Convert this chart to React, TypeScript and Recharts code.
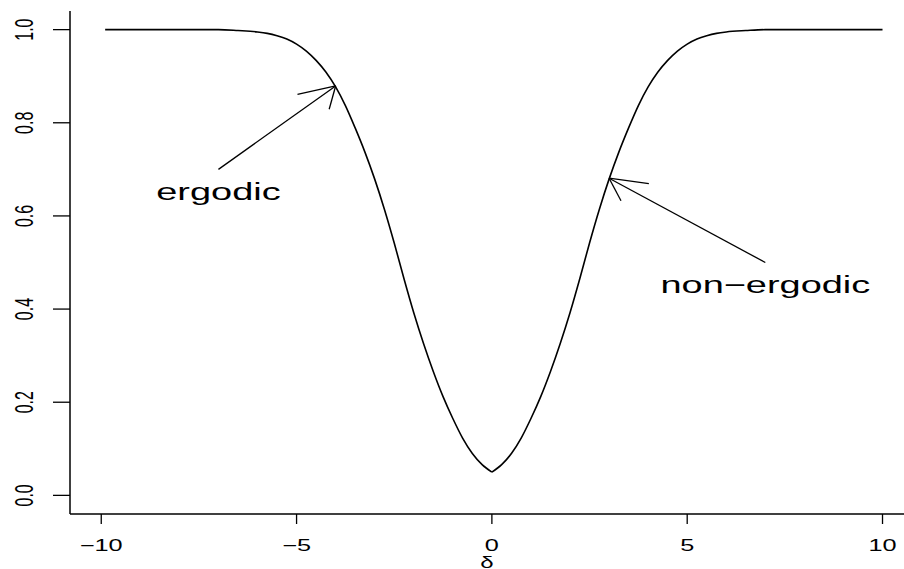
import { LineChart, Line, XAxis, YAxis, ReferenceLine, ReferenceDot } from 'recharts'

// values
const deltas = [
  -9.9, -9, -8, -7.5, -7, -6.5, -6, -5.75, -5.5, -5.25, -5, -4.75, -4.5, -4.25, -4, -3.75, -3.5, -3.25,
  -3, -2.75, -2.5, -2.25, -2, -1.75, -1.5, -1.25, -1, -0.75, -0.5, -0.25, 0,
  0.25, 0.5, 0.75, 1, 1.25, 1.5, 1.75, 2, 2.25, 2.5, 2.75, 3, 3.25, 3.5, 3.75,
  4, 4.25, 4.5, 4.75, 5, 5.25, 5.5, 5.75, 6, 6.5, 7, 7.5, 8, 9, 10,
]
const probs = [
  1.0, 1.0, 1.0, 1.0, 1.0, 0.998, 0.995, 0.992, 0.987, 0.98, 0.969, 0.954, 0.934, 0.909, 0.877, 0.837, 0.789, 0.737,
  0.679, 0.614, 0.542, 0.465, 0.392, 0.326, 0.266, 0.212, 0.165, 0.123, 0.09, 0.066, 0.05,
  0.066, 0.09, 0.123, 0.165, 0.212, 0.266, 0.326, 0.392, 0.465, 0.542, 0.614, 0.679, 0.737, 0.789, 0.837,
  0.877, 0.909, 0.934, 0.954, 0.969, 0.98, 0.987, 0.992, 0.995, 0.998, 1.0, 1.0, 1.0, 1.0, 1.0,
]
const xTicks = [-10, -5, 0, 5, 10]
const yTicks = [0, 0.2, 0.4, 0.6, 0.8, 1.0]

const labelNames = ['ergodic', 'non−ergodic']
const labelX = [-7, 7]
const labelY = [0.65, 0.45]
const arrowFrom = [[-7, 0.7], [7, 0.5]]
const arrowTo = [[-4, 0.879], [3, 0.681]]

// split at the cusp so the bottom stays sharp
const data = deltas.map((d, i) => ({
  delta: d,
  left: d <= 0 ? probs[i] : null,
  right: d >= 0 ? probs[i] : null,
}))

const FONT = '"Liberation Sans", Arial, Helvetica, sans-serif'
const SX = 1.58 // the original image is stretched sideways
const HEAD_SX = 1.73
const HEAD_LEN = 23.6

const fmtX = (v: number) => (v < 0 ? '−' + Math.abs(v) : String(v))

const XTick = (p: any) => (
  <g transform={`translate(${p.x},${p.y + 25}) scale(${SX},1)`}>
    <text x={0} y={0} textAnchor="middle" fontSize={16} fontFamily={FONT} fill="#000">
      {fmtX(p.payload.value)}
    </text>
  </g>
)

const YTick = (p: any) => (
  <g transform={`translate(${p.x - 18},${p.y}) scale(${SX},1) rotate(-90)`}>
    <text x={0} y={0} textAnchor="middle" fontSize={16} fontFamily={FONT} fill="#000">
      {Number(p.payload.value).toFixed(1)}
    </text>
  </g>
)

const Arrow = (p: any) => {
  const { x1, y1, x2, y2 } = p
  const a = Math.atan2(y1 - y2, (x1 - x2) / HEAD_SX)
  const heads = [a - Math.PI / 6, a + Math.PI / 6].map((t) => [
    x2 + HEAD_SX * HEAD_LEN * Math.cos(t),
    y2 + HEAD_LEN * Math.sin(t),
  ])
  return (
    <g stroke="#000" strokeWidth={1.3} fill="none">
      <line x1={x1} y1={y1} x2={x2} y2={y2} />
      {heads.map((h, i) => (
        <line key={i} x1={x2} y1={y2} x2={h[0]} y2={h[1]} />
      ))}
    </g>
  )
}

const makeText = (txt: string) => (p: any) => (
  <g transform={`translate(${p.cx},${p.cy + 7.5}) scale(${SX},1)`}>
    <text x={0} y={0} textAnchor="middle" fontSize={24} fontFamily={FONT} fill="#000">
      {txt}
    </text>
  </g>
)

const deltaLabel = (p: any) => {
  const vb = p.viewBox
  return (
    <g transform={`translate(${vb.x + vb.width / 2},${vb.y + 54}) scale(1.5,1)`}>
      <text x={0} y={0} textAnchor="middle" fontSize={16} fontFamily={FONT} fill="#000">
        δ
      </text>
    </g>
  )
}

export default function App() {
  return (
    <div style={{ position: 'absolute', left: 0, top: 0, width: 904, height: 569, background: '#fff', overflow: 'hidden' }}>
      <LineChart width={904} height={569} data={data} margin={{ top: 11, right: 0, bottom: 0, left: 0 }}>
        <XAxis
          dataKey="delta"
          type="number"
          domain={[-10.8, 10.55]}
          ticks={xTicks}
          tickSize={10}
          height={55}
          tick={<XTick />}
          axisLine={{ stroke: '#000', strokeWidth: 1.5 }}
          tickLine={{ stroke: '#000', strokeWidth: 1.3 }}
          label={{ content: deltaLabel }}
        />
        <XAxis
          xAxisId="top"
          orientation="top"
          type="number"
          domain={[-10.8, 10.55]}
          height={0}
          tick={false}
          tickLine={false}
          axisLine={{ stroke: '#000', strokeWidth: 1.5 }}
        />
        <YAxis
          type="number"
          domain={[-0.04, 1.04]}
          ticks={yTicks}
          width={70}
          tickSize={17}
          tick={<YTick />}
          axisLine={{ stroke: '#000', strokeWidth: 1.5 }}
          tickLine={{ stroke: '#000', strokeWidth: 1.3 }}
        />
        <Line dataKey="left" type="monotone" stroke="#000" strokeWidth={1.6} dot={false} isAnimationActive={false} />
        <Line dataKey="right" type="monotone" stroke="#000" strokeWidth={1.6} dot={false} isAnimationActive={false} />
        {arrowFrom.map((f, i) => (
          <ReferenceLine
            key={'a' + i}
            segment={[{ x: f[0], y: f[1] }, { x: arrowTo[i][0], y: arrowTo[i][1] }]}
            shape={Arrow}
            ifOverflow="visible"
          />
        ))}
        {labelNames.map((n, i) => (
          <ReferenceDot key={'t' + i} x={labelX[i]} y={labelY[i]} r={0} shape={makeText(n)} ifOverflow="visible" />
        ))}
      </LineChart>
    </div>
  )
}
